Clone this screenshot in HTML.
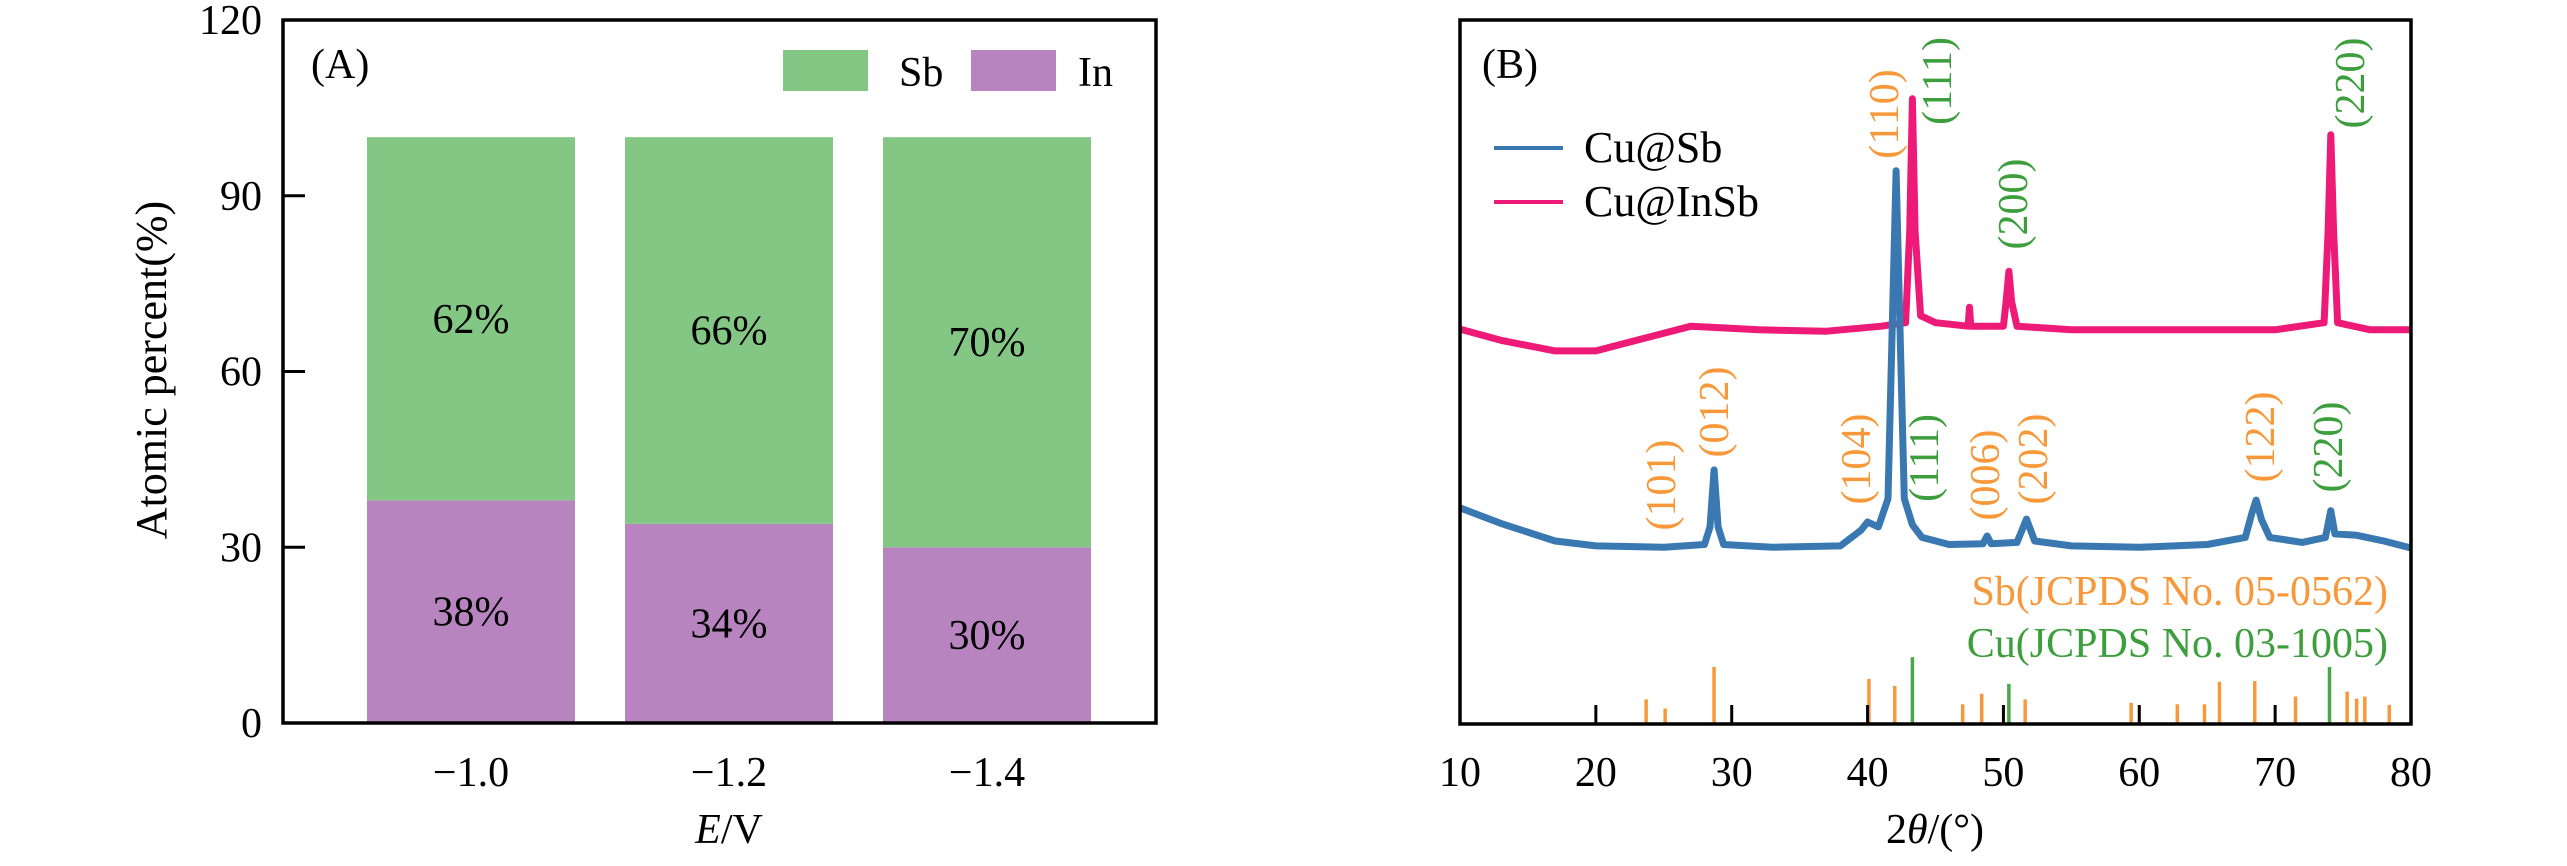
<!DOCTYPE html>
<html><head><meta charset="utf-8">
<style>
html,body{margin:0;padding:0;background:#fff;}
svg{display:block;font-family:"Liberation Serif",serif;}
</style></head>
<body>
<svg id="fig" width="2567" height="866" viewBox="0 0 2567 866" xmlns="http://www.w3.org/2000/svg" font-family="Liberation Serif, serif">
<g id="pa"></g>
<g id="pb"></g>
</svg>
<script>
// ---- Panel A data ----
const aCategories = ["\u22121.0", "\u22121.2", "\u22121.4"];
const aIn = [38, 34, 30];
const aSb = [62, 66, 70];
const aYTicks = [0, 30, 60, 90, 120];
// ---- Panel B data ----
const bXTicks = [10, 20, 30, 40, 50, 60, 70, 80];
const seriesInSb = [[10,56.1],[13,54.5],[17,53],[20,53],[23,54.5],[27,56.5],[32,56],[37,55.8],[41,56.5],[42.8,57],[43.1,70],[43.3,88.8],[43.5,70],[43.9,58],[45,57],[47.4,56.5],[47.5,59.2],[47.6,56.5],[50,56.5],[50.2,60],[50.4,64.3],[50.6,60],[51,56.5],[55,56],[60,56],[65,56],[70,56],[73.6,57],[73.9,70],[74.1,83.7],[74.3,70],[74.6,57],[77,56],[80,56]];
const seriesSb = [[10,30.7],[13,28.5],[17,26],[20,25.3],[25,25.1],[28,25.5],[28.4,28],[28.7,36.1],[29,28],[29.4,25.5],[33,25.1],[38,25.3],[39.5,27.5],[40,28.7],[40.8,28],[41.5,32],[41.8,55],[42.1,78.6],[42.4,55],[42.7,32],[43.3,28.3],[44,26.5],[46,25.5],[48.5,25.6],[48.8,26.7],[49.1,25.6],[51,25.8],[51.7,29.1],[52.3,26],[55,25.3],[60,25.1],[65,25.5],[67.8,26.5],[68.3,30],[68.6,31.8],[69,29],[69.6,26.5],[72,25.8],[73.7,26.5],[74.1,30.3],[74.4,27],[76,26.8],[78,26],[80,25]];
const sbRefPos = [23.7,25.1,28.7,40.1,42.0,47.0,48.4,51.6,59.4,62.8,64.8,65.9,68.5,71.5,75.3,76.0,76.6,78.4];
const sbRefInt = [3.5,2.2,8.1,6.4,5.4,2.8,4.3,3.5,3.0,2.8,2.8,6.0,6.1,3.9,4.6,3.6,3.9,2.7];
const cuRefPos = [43.3, 50.4, 74.0];
const cuRefInt = [9.5, 5.7, 8.1];

const NS="http://www.w3.org/2000/svg";
function mk(parent, tag, attrs, text){
  const e=document.createElementNS(NS,tag);
  for(const k in attrs) e.setAttribute(k, attrs[k]);
  if(text!==undefined) e.textContent=text;
  parent.appendChild(e); return e;
}
const ORANGE="#f7993a", GREENT="#3d9e3d";

// ===== Panel A =====
const pa=document.getElementById('pa');
const aL=283,aR=1156,aT=20,aB=723;
const ay=v=>aB-v*(aB-aT)/120;
const aStep=258, aX0=471, barW=208;
const ax=i=>aX0+i*aStep;
aCategories.forEach((c,i)=>{
  const x=ax(i)-barW/2;
  let r=mk(pa,'rect',{x:x,y:ay(aIn[i]),width:barW,height:ay(0)-ay(aIn[i]),fill:"#b784bf"});
  
  
  r=mk(pa,'rect',{x:x,y:ay(aIn[i]+aSb[i]),width:barW,height:ay(aIn[i])-ay(aIn[i]+aSb[i]),fill:"#84c784"});
  
  
  let t=mk(pa,'text',{x:ax(i),y:ay(aIn[i]/2)+14,'font-size':42,'text-anchor':'middle'},aIn[i]+"%");
  
  
  t=mk(pa,'text',{x:ax(i),y:ay(aIn[i]+aSb[i]/2)+14,'font-size':42,'text-anchor':'middle'},aSb[i]+"%");
  
  
  t=mk(pa,'text',{x:ax(i),y:786,'font-size':42,'text-anchor':'middle'},c);
  
  
});
aYTicks.forEach(v=>{
  let t=mk(pa,'text',{x:262,y:ay(v)+14,'font-size':42,'text-anchor':'end'},v);
  
  
  if(v>0&&v<120){
    let l=mk(pa,'line',{x1:aL,x2:aL+22,y1:ay(v),y2:ay(v),stroke:"#000","stroke-width":3});
    
    
  }
});
let fr=mk(pa,'rect',{x:aL,y:aT,width:aR-aL,height:aB-aT,fill:"none",stroke:"#000","stroke-width":3.5});


let tt=mk(pa,'text',{x:311,y:78,'font-size':42},"(A)");


tt=mk(pa,'text',{x:0,y:0,'font-size':44,'text-anchor':'middle',transform:'translate(166,370) rotate(-90)'},"Atomic percent(%)");


tt=mk(pa,'text',{x:729,y:843,'font-size':42,'text-anchor':'middle'});


mk(tt,'tspan',{'font-style':'italic'},"E");mk(tt,'tspan',{},"/V");
let lg=mk(pa,'rect',{x:783,y:50,width:85,height:41,fill:"#84c784"});


lg=mk(pa,'text',{x:899,y:86,'font-size':42},"Sb");


lg=mk(pa,'rect',{x:971,y:50,width:85,height:41,fill:"#b784bf"});


lg=mk(pa,'text',{x:1078,y:86,'font-size':42},"In");



// ===== Panel B =====
const pb=document.getElementById('pb');
const bL=1460,bR=2411,bT=20,bB=724;
const bx=v=>bL+(v-10)*(bR-bL)/70;
const by=v=>bB-v*(bB-bT)/100;
function pathOf(s){return s.map((p,i)=>(i?'L':'M')+bx(p[0]).toFixed(1)+','+by(p[1]).toFixed(1)).join(' ');}
let p=mk(pb,'path',{d:pathOf(seriesInSb),fill:'none',stroke:'#ee1a78','stroke-width':7,'stroke-linejoin':'round'});


p=mk(pb,'path',{d:pathOf(seriesSb),fill:'none',stroke:'#3a78b2','stroke-width':7,'stroke-linejoin':'round'});


sbRefPos.forEach((v,i)=>{
  const l=mk(pb,'line',{x1:bx(v),x2:bx(v),y1:bB,y2:by(sbRefInt[i]),stroke:ORANGE,'stroke-width':3.5});
  
  
});
cuRefPos.forEach((v,i)=>{
  const l=mk(pb,'line',{x1:bx(v),x2:bx(v),y1:bB,y2:by(cuRefInt[i]),stroke:"#4aa84a",'stroke-width':3.5});
  
  
});
bXTicks.forEach(v=>{
  const t=mk(pb,'text',{x:bx(v),y:786,'font-size':42,'text-anchor':'middle'},v);
  
  
  if(v>10&&v<80){
    const l=mk(pb,'line',{x1:bx(v),x2:bx(v),y1:bB,y2:bB-19,stroke:'#000','stroke-width':3});
    
    
  }
});
fr=mk(pb,'rect',{x:bL,y:bT,width:bR-bL,height:bB-bT,fill:"none",stroke:"#000","stroke-width":3.5});


tt=mk(pb,'text',{x:1482,y:78,'font-size':42},"(B)");


tt=mk(pb,'text',{x:1935,y:843,'font-size':42,'text-anchor':'middle'});


mk(tt,'tspan',{},"2");mk(tt,'tspan',{'font-style':'italic'},"\u03b8");mk(tt,'tspan',{},"/(\u00b0)");
let ll=mk(pb,'line',{x1:1494,x2:1563,y1:148,y2:148,stroke:'#3a78b2','stroke-width':4});


ll=mk(pb,'text',{x:1584,y:162,'font-size':44},"Cu@Sb");


ll=mk(pb,'line',{x1:1494,x2:1563,y1:202,y2:202,stroke:'#ee1a78','stroke-width':4});


ll=mk(pb,'text',{x:1584,y:216,'font-size':44},"Cu@InSb");


ll=mk(pb,'text',{x:2388,y:605,'font-size':42,'text-anchor':'end',fill:ORANGE},"Sb(JCPDS No. 05-0562)");


ll=mk(pb,'text',{x:2388,y:657,'font-size':42,'text-anchor':'end',fill:GREENT},"Cu(JCPDS No. 03-1005)");


const millerBlue=[["(101)",1661,"o",485],["(012)",1714,"o",412],["(104)",1856,"o",459],["(111)",1924,"g",458],["(006)",1985,"o",475],["(202)",2033,"o",459],["(122)",2260,"o",437],["(220)",2328,"g",447]];
const millerPink=[["(110)",1884,"o",114],["(111)",1937,"g",81],["(200)",2013,"g",204],["(220)",2350,"g",83]];
millerBlue.concat(millerPink).forEach(m=>{
  const t=mk(pb,'text',{x:0,y:0,'font-size':42,'text-anchor':'middle',fill:m[2]==="o"?ORANGE:GREENT,transform:`translate(${m[1]+14},${m[3]}) rotate(-90)`},m[0]);
  
  
});
</script>
</body></html>
